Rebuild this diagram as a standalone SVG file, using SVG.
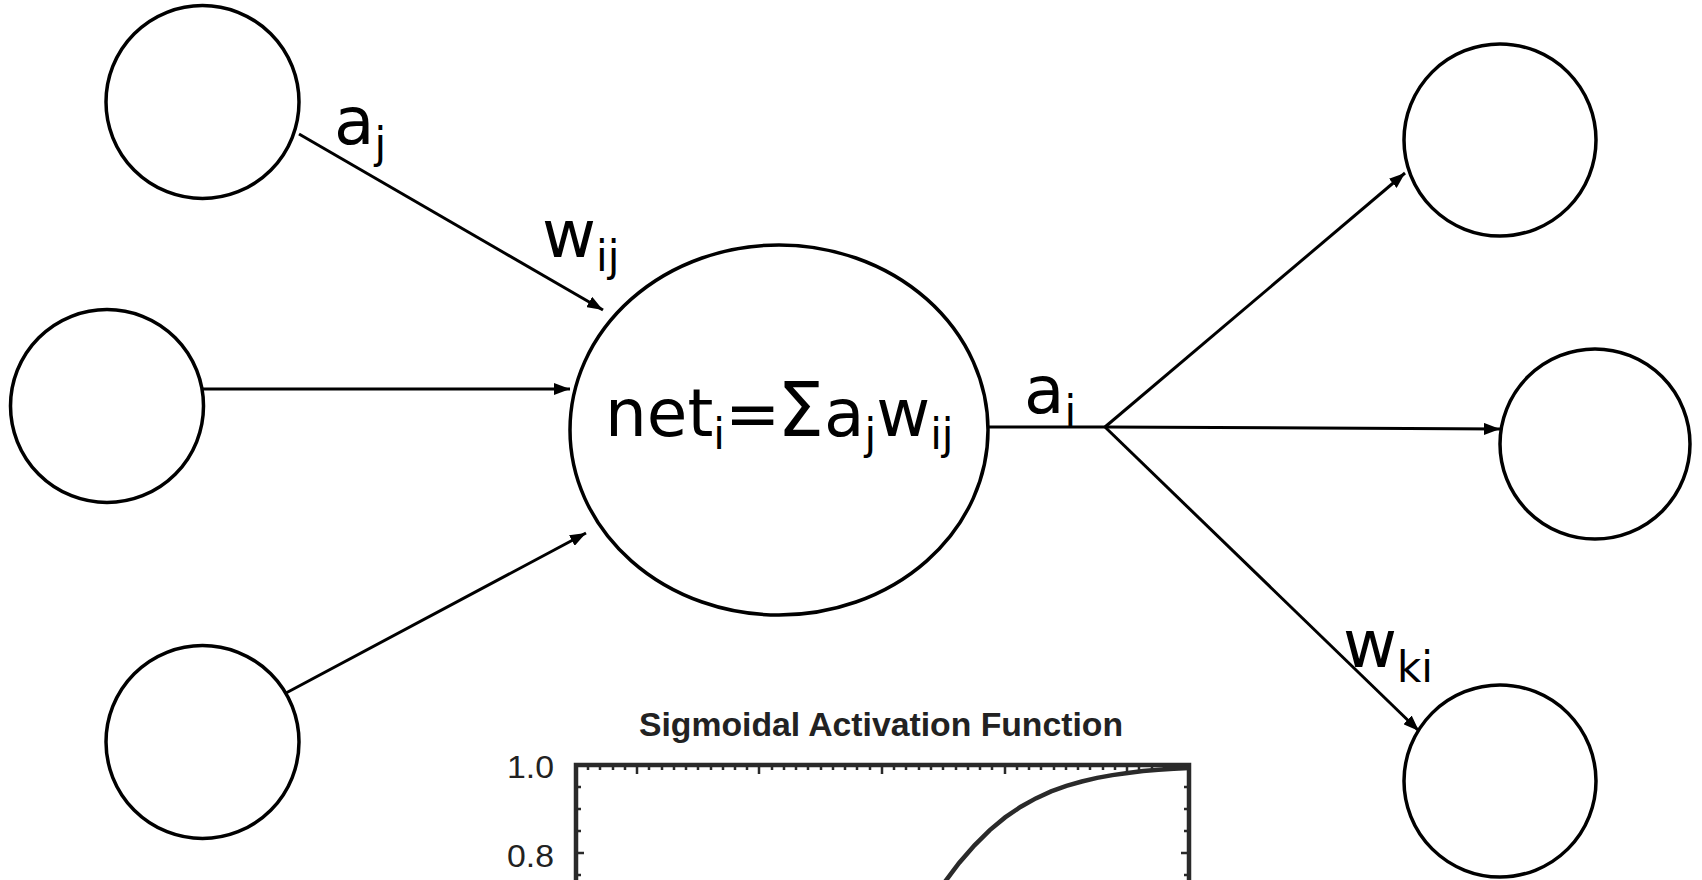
<svg xmlns="http://www.w3.org/2000/svg" width="1702" height="880" viewBox="0 0 1702 880">
<style>
.node{fill:#fff;stroke:#000;stroke-width:3.5}
.edge{fill:none;stroke:#000;stroke-width:3}
.lbl{font-family:"DejaVu Sans",Verdana,sans-serif;font-size:66px;fill:#000}
.sub{font-size:42px}
.ax{fill:none;stroke:#2a2a2a;stroke-width:4.5}
.tk{fill:none;stroke:#2a2a2a;stroke-width:2.5}
.ct{font-family:"Liberation Sans",Arial,sans-serif;fill:#222}
</style>
<defs>
<marker id="arr" viewBox="0 0 16 12" refX="16" refY="6" markerWidth="16" markerHeight="12" markerUnits="userSpaceOnUse" orient="auto">
<path d="M0,0 L16,6 L0,12 z" fill="#000"/>
</marker>
</defs>
<rect width="1702" height="880" fill="#fff"/>

<g id="connectors">
<line class="edge" x1="299" y1="134" x2="603" y2="310" marker-end="url(#arr)"/>
<line class="edge" x1="203" y1="389" x2="570" y2="389" marker-end="url(#arr)"/>
<line class="edge" x1="286" y1="693" x2="586" y2="533" marker-end="url(#arr)"/>
<polyline class="edge" points="988,427 1105,427"/>
<line class="edge" x1="1105" y1="427" x2="1405" y2="173" marker-end="url(#arr)"/>
<line class="edge" x1="1105" y1="427" x2="1500" y2="429" marker-end="url(#arr)"/>
<line class="edge" x1="1105" y1="427" x2="1419" y2="731" marker-end="url(#arr)"/>
</g>

<g id="in1"><circle class="node" cx="202.5" cy="102" r="96.5"/></g>
<g id="in2"><circle class="node" cx="107" cy="406" r="96.5"/></g>
<g id="in3"><circle class="node" cx="202.5" cy="742" r="96.5"/></g>
<g id="unit"><ellipse class="node" cx="779" cy="430" rx="209" ry="185"/>
<text class="lbl" x="605" y="436">net<tspan class="sub" dy="13">i</tspan><tspan dy="-13">=</tspan><tspan font-size="74" dx="-3">Σ</tspan><tspan>a</tspan><tspan class="sub" dy="13">j</tspan><tspan dy="-13">w</tspan><tspan class="sub" dy="13">ij</tspan></text>
</g>
<g id="out1"><circle class="node" cx="1500" cy="140" r="96"/></g>
<g id="out2"><circle class="node" cx="1595" cy="444" r="95"/></g>
<g id="out3"><circle class="node" cx="1500" cy="781" r="96"/></g>

<g id="labels">
<text class="lbl" x="334" y="144">a<tspan class="sub" dy="14">j</tspan></text>
<text class="lbl" x="542" y="257">w<tspan class="sub" dy="14">ij</tspan></text>
<text class="lbl" x="1024" y="413">a<tspan class="sub" dy="13">i</tspan></text>
<text class="lbl" x="1343" y="667">w<tspan class="sub" dy="15">ki</tspan></text>
</g>

<g id="chart">
<text class="ct" x="881" y="736" font-size="34" font-weight="bold" text-anchor="middle" textLength="484" lengthAdjust="spacingAndGlyphs">Sigmoidal Activation Function</text>
<text class="ct" x="507" y="778" font-size="31" textLength="47" lengthAdjust="spacingAndGlyphs">1.0</text>
<text class="ct" x="507" y="867" font-size="31" textLength="47" lengthAdjust="spacingAndGlyphs">0.8</text>
<path class="ax" d="M576,900 L576,765 L1189,765 L1189,900"/>
<path class="tk" d="M637,765 v9 M759,765 v9 M882,765 v9 M1005,765 v9 M1127,765 v9 M576,853 h8 M1189,853 h-8"/>
<path class="tk" stroke-width="2" d="M588,765v5M600,765v5M613,765v5M625,765v5M649,765v5M662,765v5M674,765v5M686,765v5M698,765v5M711,765v5M723,765v5M735,765v5M747,765v5M772,765v5M784,765v5M796,765v5M808,765v5M821,765v5M833,765v5M845,765v5M857,765v5M870,765v5M894,765v5M906,765v5M919,765v5M931,765v5M943,765v5M956,765v5M968,765v5M980,765v5M992,765v5M1017,765v5M1029,765v5M1041,765v5M1054,765v5M1066,765v5M1078,765v5M1090,765v5M1103,765v5M1115,765v5M1139,765v5M1152,765v5M1164,765v5M1176,765v5 M576,787 h5 M576,809 h5 M576,831 h5 M576,875 h5 M1189,787 h-5 M1189,809 h-5 M1189,831 h-5 M1189,875 h-5"/>
<path fill="none" stroke="#2a2a2a" stroke-width="4.5" d="M931.5,901.4 L943.8,883.3 L959.1,863 L974.5,845.3 L989.8,830.1 L1005.1,817.4 L1020.4,807 L1035.8,798.4 L1051.1,791.4 L1066.4,785.9 L1081.8,781.5 L1097.1,777.9 L1112.4,775.1 L1127.7,772.9 L1143,771.1 L1158.4,769.8 L1173.7,768.8 L1189,767.9"/>
</g>
</svg>
